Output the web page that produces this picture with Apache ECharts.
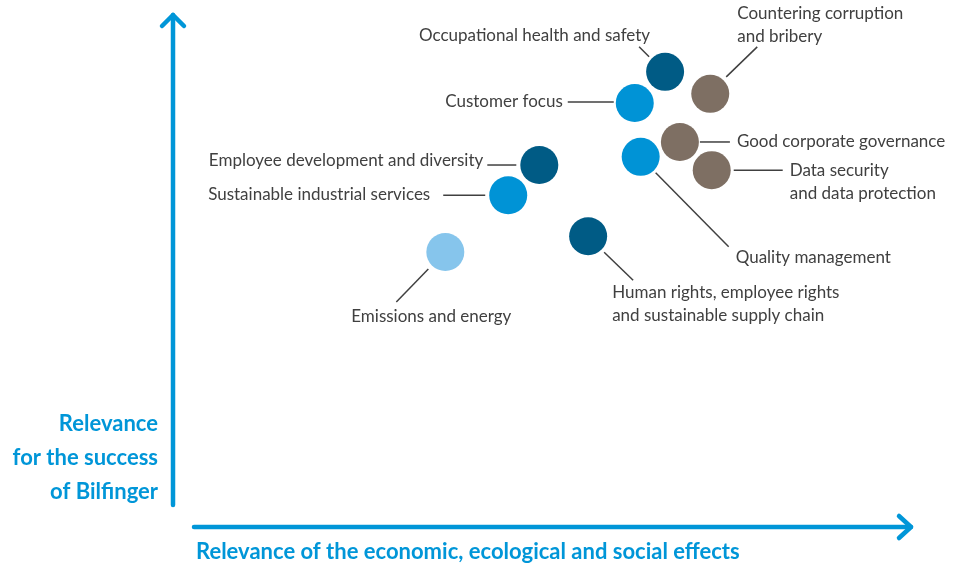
<!DOCTYPE html>
<html>
<head>
<meta charset="utf-8">
<script src="https://cdn.jsdelivr.net/npm/echarts@6/dist/echarts.min.js"></script>
<style>
  html, body { margin: 0; padding: 0; background: #fff; }
  #chart { width: 958px; height: 569px; }
</style>
</head>
<body>
<div id="chart"></div>
<script>
// topics of the materiality matrix
const topics = [
  'Occupational health and safety',
  'Countering corruption\nand bribery',
  'Customer focus',
  'Good corporate governance',
  'Quality management',
  'Data security\nand data protection',
  'Employee development and diversity',
  'Sustainable industrial services',
  'Human rights, employee rights\nand sustainable supply chain',
  'Emissions and energy',
]
// relevance of the economic, ecological and social effects (x)
const effectRelevance = [66.5, 72.6, 62.4, 68.5, 63.2, 72.8, 49.5, 45.3, 56.1, 36.8]
// relevance for the success of Bilfinger (y)
const successRelevance = [88.9, 84.6, 82.8, 75.2, 72.3, 69.7, 70.7, 64.8, 56.8, 53.7]
// topic group -> colour
const topicGroup = ['dark', 'brown', 'mid', 'brown', 'mid', 'brown', 'dark', 'mid', 'dark', 'light']

const palette = {
  dark: '#005b85',
  mid: '#0093d6',
  light: '#86c5ec',
  brown: '#7e6f63',
}
const axisBlue = '#0096d8'
const textGrey = '#404040'

// leader line (x1,y1,x2,y2) and text anchor, in px relative to the circle centre
const labelLayout = [
  { line: [-26, -25, -16, -15], text: [-15, -36], align: 'right' },
  { line: [16, -17, 47, -47], text: [27, -69], align: 'left' },
  { line: [-67, -1, -21, -1], text: [-72, -2], align: 'right' },
  { line: [20, 0, 50, 0], text: [57, 0], align: 'left' },
  { line: [15, 16, 88, 90], text: [95, 101], align: 'left' },
  { line: [22, 0, 71, 0], text: [78, 12], align: 'left' },
  { line: [-52, 0, -23, 0], text: [-56, -5], align: 'right' },
  { line: [-65, 0, -23, 0], text: [-78, -1], align: 'right' },
  { line: [16, 16, 45, 44], text: [24, 68], align: 'left' },
  { line: [-49, 50, -17, 17], text: [-14, 64], align: 'center' },
]

const chart = echarts.init(document.getElementById('chart'))

const points = topics.map((name, i) => ({
  name,
  value: [effectRelevance[i], successRelevance[i], i],
  itemStyle: { color: palette[topicGroup[i]] },
}))

const arrowStyle = { stroke: axisBlue, lineWidth: 4.5, lineCap: 'round', lineJoin: 'round', fill: null }

const option = {
  backgroundColor: '#fff',
  animation: false,
  grid: { left: 173, right: 45, top: 15, bottom: 42 },
  xAxis: { type: 'value', min: 0, max: 100, show: false },
  yAxis: { type: 'value', min: 0, max: 100, show: false },
  graphic: [
    // vertical arrow
    { type: 'polyline', shape: { points: [[173, 505], [173, 15]] }, style: arrowStyle },
    { type: 'polyline', shape: { points: [[162, 26], [173, 15], [184, 26]] }, style: arrowStyle },
    // horizontal arrow
    { type: 'polyline', shape: { points: [[194, 527], [911, 527]] }, style: arrowStyle },
    { type: 'polyline', shape: { points: [[899, 516], [911, 527], [899, 538]] }, style: arrowStyle },
    {
      type: 'text', x: 158, y: 407,
      style: {
        text: 'Relevance\nfor the success\nof Bilfinger',
        align: 'right', verticalAlign: 'top', lineHeight: 34,
        font: 'bold 22px Lato', fill: axisBlue,
      },
    },
    {
      type: 'text', x: 196, y: 552,
      style: {
        text: 'Relevance of the economic, ecological and social effects',
        align: 'left', verticalAlign: 'middle',
        font: 'bold 22px Lato', fill: axisBlue,
      },
    },
  ],
  series: [
    {
      type: 'custom',
      data: points.map(p => p.value),
      silent: true,
      renderItem: (params, api) => {
        const idx = api.value(2)
        const c = api.coord([api.value(0), api.value(1)])
        const l = labelLayout[idx]
        return {
          type: 'group',
          children: [
            {
              type: 'line',
              shape: { x1: c[0] + l.line[0], y1: c[1] + l.line[1], x2: c[0] + l.line[2], y2: c[1] + l.line[3] },
              style: { stroke: textGrey, lineWidth: 1.5 },
            },
            {
              type: 'text',
              x: c[0] + l.text[0],
              y: c[1] + l.text[1],
              style: {
                text: topics[idx],
                align: l.align,
                verticalAlign: 'middle',
                lineHeight: 23,
                font: '17px Lato',
                fill: textGrey,
              },
            },
          ],
        }
      },
    },
    {
      type: 'scatter',
      symbol: 'circle',
      symbolSize: 38,
      data: points,
      itemStyle: { opacity: 1 },
      z: 3,
    },
  ],
}

chart.setOption(option)
</script>
</body>
</html>
